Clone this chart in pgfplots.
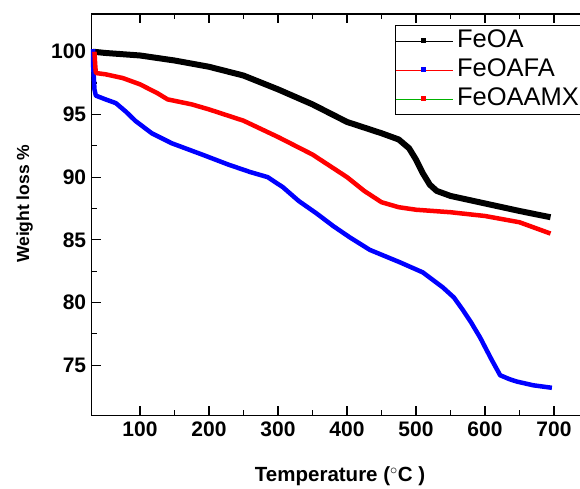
\documentclass[border=0pt]{standalone}
\usepackage{fontspec}
\setmainfont{Liberation Sans}
\usepackage{pgfplots}
\pgfplotsset{compat=1.18}

\begin{document}
\begin{tikzpicture}
\begin{axis}[
  scale only axis, width=496.8pt, height=401.3pt,
  xmin=30, xmax=750, ymin=71, ymax=103,
  xtick={100,200,...,700}, ytick={75,80,...,100},
  minor x tick num=1, minor y tick num=1,
  tick align=inside, major tick length=9pt, minor tick length=5pt,
  xtick pos=both, ytick pos=left,
  axis line style={line width=1.4pt}, every tick/.style={black,line width=1.2pt},
  /pgf/number format/assume math mode=true,
  ticklabel style={font=\bfseries\fontsize{21}{21}\selectfont},
  xticklabel style={yshift=-3pt}, yticklabel style={xshift=-2pt},
  xlabel={Temperature ({$^{\circ}$}C )}, ylabel={Weight loss \%},
  xlabel style={font=\bfseries\fontsize{20.5}{20.5}\selectfont, at={(axis description cs:0.5,0)}, anchor=base, yshift=-66.3pt},
  ylabel style={font=\bfseries\fontsize{17.5}{17.5}\selectfont, at={(axis description cs:-0.1262,0.5275)}, anchor=base},
  clip=false,
  legend cell align=left,
  legend style={at={(axis cs:469.6,102.13)}, anchor=north west, draw=black, line width=0.8pt,
    font=\fontsize{25.5}{25.5}\selectfont, inner xsep=0pt, inner ysep=1pt, row sep=0pt,
    nodes={inner ysep=0pt, inner xsep=4pt, text height=21pt, text depth=8pt}},
]
\addplot[black, line width=6pt, line join=round,
  legend image code/.code={\draw[black,line width=0.6pt] (0pt,0pt)--(57pt,0pt); \fill[black,draw=none] (25.5pt,-2.5pt) rectangle (30.5pt,2.5pt);}]
  coordinates {(32,100.0) (50,99.9) (100,99.7) (150,99.3) (200,98.8) (250,98.1) (300,97.0) (350,95.8) (400,94.4) (450,93.5) (475,93.0) (490,92.3) (500,91.4) (510,90.3) (520,89.4) (530,88.9) (550,88.5) (600,87.9) (650,87.3) (695,86.8)};
\addlegendentry{FeOA}
\addplot[blue, line width=4.5pt, line join=round,
  legend image code/.code={\draw[red,line width=0.6pt] (0pt,0pt)--(57pt,0pt); \fill[blue,draw=none] (25.5pt,-2.5pt) rectangle (30.5pt,2.5pt);}]
  coordinates {(32,100.2) (32,99.0) (33,98.0) (34,97.0) (36,96.5) (50,96.2) (65,95.9) (80,95.2) (93,94.5) (117,93.5) (146,92.7) (190,91.8) (228,91.0) (260,90.4) (285,90.0) (307,89.2) (330,88.1) (356,87.1) (380,86.1) (404,85.2) (433,84.2) (477,83.2) (510,82.4) (539,81.2) (555,80.4) (568,79.4) (580,78.4) (593,77.2) (610,75.4) (622,74.2) (635,73.9) (646,73.7) (670,73.4) (697,73.2)};
\addlegendentry{FeOAFA}
\addplot[red, line width=4.5pt, line join=round,
  legend image code/.code={\draw[green!70!black,line width=0.6pt] (0pt,0pt)--(57pt,0pt); \fill[red,draw=none] (25.5pt,-2.5pt) rectangle (30.5pt,2.5pt);}]
  coordinates {(34,100.0) (35,99.0) (36,98.3) (50,98.2) (75,97.9) (100,97.4) (125,96.7) (140,96.2) (175,95.8) (200,95.4) (250,94.5) (300,93.2) (350,91.8) (400,90.0) (425,88.9) (450,88.0) (475,87.6) (500,87.4) (550,87.2) (600,86.9) (650,86.4) (695,85.5)};
\addlegendentry{FeOAAMX}
\coordinate (bl) at (axis cs:30,71);
\coordinate (tr) at (axis cs:737.7,103);
\end{axis}
\pgfresetboundingbox
\path ([xshift=-91.7pt,yshift=-73.3pt]bl) rectangle ([yshift=14.1pt]tr);
\end{tikzpicture}
\end{document}
